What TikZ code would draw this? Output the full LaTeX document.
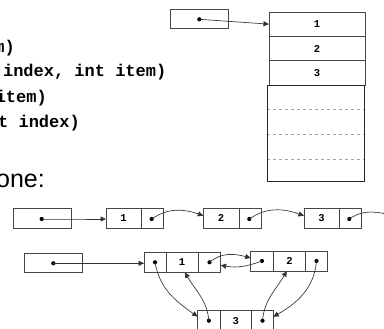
\documentclass[tikz,border=0pt]{standalone}
\usepackage{fontspec}
\setmainfont{Liberation Sans}
\newfontfamily\codefont{Liberation Mono}
\usetikzlibrary{arrows.meta}
\begin{document}
\begin{tikzpicture}[x=1pt,y=-1pt,
  cell/.style={draw=black!72, line width=0.7pt, inner sep=0pt, outer sep=0pt,
    font=\codefont\bfseries\fontsize{10.5}{12}\selectfont},
  ptr/.style={draw=black!80, line width=0.65pt, -{Triangle[length=5.5pt,width=5pt]}},
  ptrn/.style={draw=black!80, line width=0.65pt},
  dot/.style={circle, fill=black, inner sep=0pt, minimum size=4.2pt},
  code/.style={anchor=base east, inner sep=0pt, font=\codefont\bfseries\fontsize{17}{20}\selectfont}
]
\useasboundingbox[fill=white] (0,0) rectangle (384,329);

% ---- code text (cropped) ----
\node[code] (c1) at (15,52.5) {m)};
\node[code] (c2) at (166.5,77) {index, int item)};
\node[code] (c3) at (47,102.5) {item)};
\node[code] (c4) at (80,127.5) {t index)};
\node[anchor=base east, inner sep=0pt, font=\fontsize{25}{28}\selectfont] (one) at (45,187.5) {one:};

% ---- array ----
\node[cell, minimum width=57.6pt, minimum height=19.4pt] (ah) at (199.5,19) {};
\node[dot] (ahd) at (199.3,19.3) {};
\node[cell, minimum width=96pt, minimum height=24.3pt] (r1) at (317,24.15) {1};
\node[cell, minimum width=96pt, minimum height=24.3pt] (r2) at (317,48.5) {2};
\node[cell, minimum width=96pt, minimum height=24.3pt] (r3) at (317,72.85) {3};
\draw[gray!70, dashed, line width=0.6pt] (267.3,109.5) -- (364.3,109.5)
  (267.3,134.3) -- (364.3,134.3) (267.3,159.3) -- (364.3,159.3);
\node[draw=black!85, line width=0.8pt, inner sep=0pt, outer sep=0pt,
  minimum width=97pt, minimum height=96.7pt] (rest) at (315.8,133.35) {};
\draw[ptr] (ahd.center) -- (r1.west);

% ---- singly linked list ----
\node[cell, minimum width=57.7pt, minimum height=20pt] (sh) at (42.2,218.3) {};
\node[dot] (shd) at (41.7,219) {};
\node[cell, minimum width=35pt, minimum height=20pt] (s1d) at (123.5,218.3) {1};
\node[cell, minimum width=22.3pt, minimum height=20pt] (s1p) at (152.15,218.3) {};
\node[cell, minimum width=35.7pt, minimum height=20pt] (s2d) at (221.15,218.3) {2};
\node[cell, minimum width=22.7pt, minimum height=20pt] (s2p) at (250.35,218.3) {};
\node[cell, minimum width=35pt, minimum height=20pt] (s3d) at (321.5,218.3) {3};
\node[cell, minimum width=22.7pt, minimum height=20pt] (s3p) at (350.35,218.3) {};
\node[dot] (s1dot) at (151.7,219) {};
\node[dot] (s2dot) at (249.3,219) {};
\node[dot] (s3dot) at (349.3,219) {};
\coordinate (send) at (394,216);
\draw[ptr] (shd.center) -- (sh.east |- shd.center) -- (s1d.west |- shd.center);
\draw[ptr] (s1dot.center) to[out=35,in=160] (s2d.172);
\draw[ptr] (s2dot.center) to[out=35,in=160] (s3d.172);
\draw[ptrn] (s3dot.center) to[out=35,in=165] (send);

% ---- doubly linked list ----
\node[cell, minimum width=58pt, minimum height=19.4pt] (dh) at (53.3,263) {};
\node[dot] (dhd) at (53.3,263.3) {};
\node[cell, minimum width=22pt, minimum height=20pt] (n1l) at (155,262.3) {};
\node[cell, minimum width=32.3pt, minimum height=20pt] (n1d) at (182.15,262.3) {1};
\node[cell, minimum width=22.4pt, minimum height=20pt] (n1r) at (209.5,262.3) {};
\node[cell, minimum width=22.6pt, minimum height=20pt] (n2l) at (262,261) {};
\node[cell, minimum width=32.4pt, minimum height=20pt] (n2d) at (289.5,261) {2};
\node[cell, minimum width=21.6pt, minimum height=20pt] (n2r) at (316.5,261) {};
\node[cell, minimum width=22.3pt, minimum height=20pt] (n3l) at (208.85,320.7) {};
\node[cell, minimum width=31.7pt, minimum height=20pt] (n3d) at (235.85,320.7) {3};
\node[cell, minimum width=21.6pt, minimum height=20pt] (n3r) at (262.5,320.7) {};
\node[dot] (n1ld) at (n1l) {};
\node[dot] (n1rd) at (n1r) {};
\node[dot] (n2ld) at (n2l) {};
\node[dot] (n2rd) at (n2r) {};
\node[dot] (n3ld) at (n3l) {};
\node[dot] (n3rd) at (n3r) {};
\draw[ptr] (dhd.center) -- (n1l.west |- dhd.center);
\draw[ptr] (n1rd.center) to[out=40,in=165] (n2l.165);
\draw[ptr] (n2ld.center) to[out=-160,in=-10] (n1r.-15);
\draw[ptr] (n1ld.center) to[out=-80,in=145] (n3l.160);
\draw[ptr] (n3ld.center) to[out=95,in=-60] (n1d.-75);
\draw[ptr] (n3rd.center) to[out=85,in=-120] (n2d.-105);
\draw[ptr] (n2rd.center) to[out=-95,in=30] (n3r.20);
\end{tikzpicture}
\end{document}
